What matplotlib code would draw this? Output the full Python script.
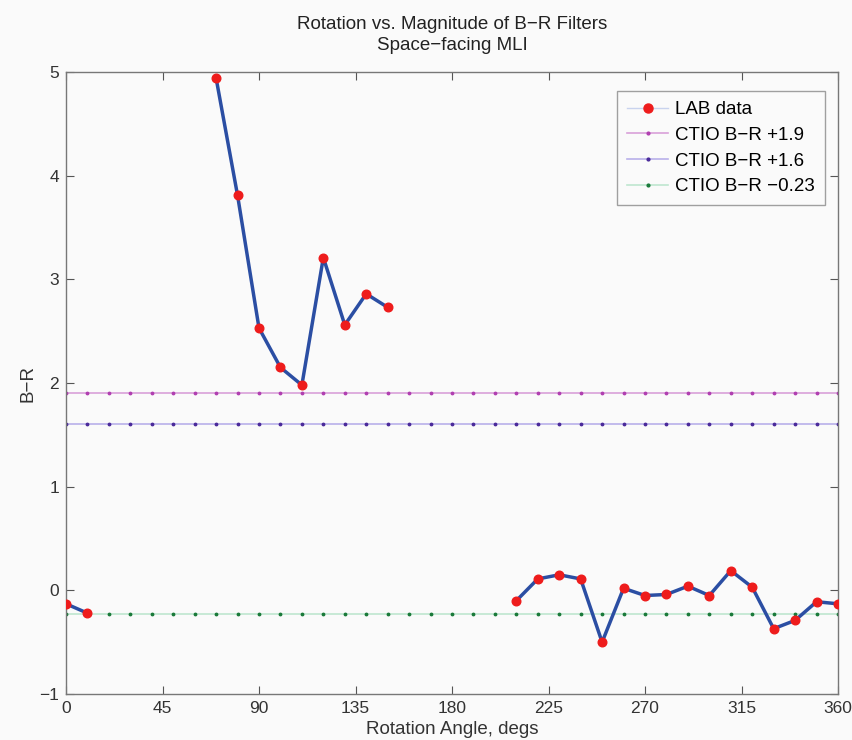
import matplotlib
matplotlib.use("Agg")
import matplotlib.pyplot as plt
import numpy as np

plt.rcParams['font.family'] = ['Liberation Sans', 'DejaVu Sans']

# LAB data (rotation angle in degs, B-R)
ang_a = [0, 10]
br_a = [-0.13, -0.22]
ang_b = [70, 80, 90, 100, 110, 120, 130, 140, 150]
br_b = [4.94, 3.81, 2.53, 2.15, 1.98, 3.21, 2.56, 2.86, 2.73]
ang_c = [210, 220, 230, 240, 250, 260, 270, 280, 290, 300, 310, 320, 330, 340, 350, 360]
br_c = [-0.10, 0.11, 0.15, 0.11, -0.50, 0.02, -0.05, -0.04, 0.04, -0.05,
        0.19, 0.03, -0.37, -0.29, -0.11, -0.13]

# CTIO reference levels
ref_angles = list(range(0, 361, 10))
ref_levels = [1.9, 1.6, -0.23]
ref_labels = ['CTIO B\u2212R +1.9', 'CTIO B\u2212R +1.6', 'CTIO B\u2212R \u22120.23']
ref_line_colors = ['#d9a0d9', '#b8b0ea', '#bfe6cf']
ref_dot_colors = ['#b03fb0', '#4a2a9a', '#1a7a3a']

xticks = [0, 45, 90, 135, 180, 225, 270, 315, 360]
yticks = [-1, 0, 1, 2, 3, 4, 5]

fig = plt.figure(figsize=(8.52, 7.4), dpi=100)
fig.patch.set_facecolor('#fafafa')
ax = fig.add_axes([66/852, 1-694/740, (838-66)/852, (694-72)/740])
ax.set_facecolor('#fafafa')

blue = '#2b4ea3'
red = '#ee1c1c'
for xs, ys in [(ang_a, br_a), (ang_b, br_b), (ang_c, br_c)]:
    ax.plot(xs, ys, '-', color=blue, lw=2.5, zorder=3)
    ax.plot(xs, ys, 'o', color=red, ms=6.2, mec=red, zorder=4)

# legend proxies
h_lab, = ax.plot([], [], '-o', color='#c9d3ee', lw=1, mfc=red, mec=red, ms=6.5)
handles = [h_lab]
for lvl, lab, lc, dc in zip(ref_levels, ref_labels, ref_line_colors, ref_dot_colors):
    ax.plot([ref_angles[0], ref_angles[-1]], [lvl, lvl], '-', color=lc, lw=1.2, zorder=1)
    ax.plot(ref_angles, [lvl] * len(ref_angles), '.', color=dc, ms=3.5, zorder=2)
    h, = ax.plot([], [], '-', color=lc, lw=1.2, marker='.', mfc=dc, mec=dc, ms=4)
    handles.append(h)

ax.set_xlim(0, 360)
ax.set_ylim(-1, 5)
ax.set_xticks(xticks)
ax.set_yticks(yticks)
ax.set_xticklabels([str(t) for t in xticks])
ax.set_yticklabels([str(t).replace('-', '\u2212') for t in yticks])
ax.tick_params(direction='in', top=True, right=True, length=6, width=0.8,
               color='#555555', labelsize=12.5, labelcolor='#333333', pad=5)
for s in ax.spines.values():
    s.set_color('#777777')
    s.set_linewidth(1.0)

ax.set_xlabel('Rotation Angle, degs', fontsize=13.5, color='#333333', labelpad=4)
ax.set_ylabel('B\u2212R', fontsize=13.5, color='#333333', labelpad=2)
ax.set_title('Rotation vs. Magnitude of B\u2212R Filters\nSpace\u2212facing MLI',
             fontsize=13.5, color='#222222', pad=16, linespacing=1.3)

leg = ax.legend(handles, ['LAB data'] + ref_labels, loc='upper right',
                bbox_to_anchor=(0.983, 0.9695), borderaxespad=0, fontsize=13.5,
                frameon=True, fancybox=False, edgecolor='#888888', handlelength=2.2,
                borderpad=0.55, labelspacing=0.45, handletextpad=0.35)
leg.get_frame().set_facecolor('#fafafa')
leg.get_frame().set_linewidth(1.0)

fig.savefig('out.png', dpi=100, facecolor=fig.get_facecolor())
